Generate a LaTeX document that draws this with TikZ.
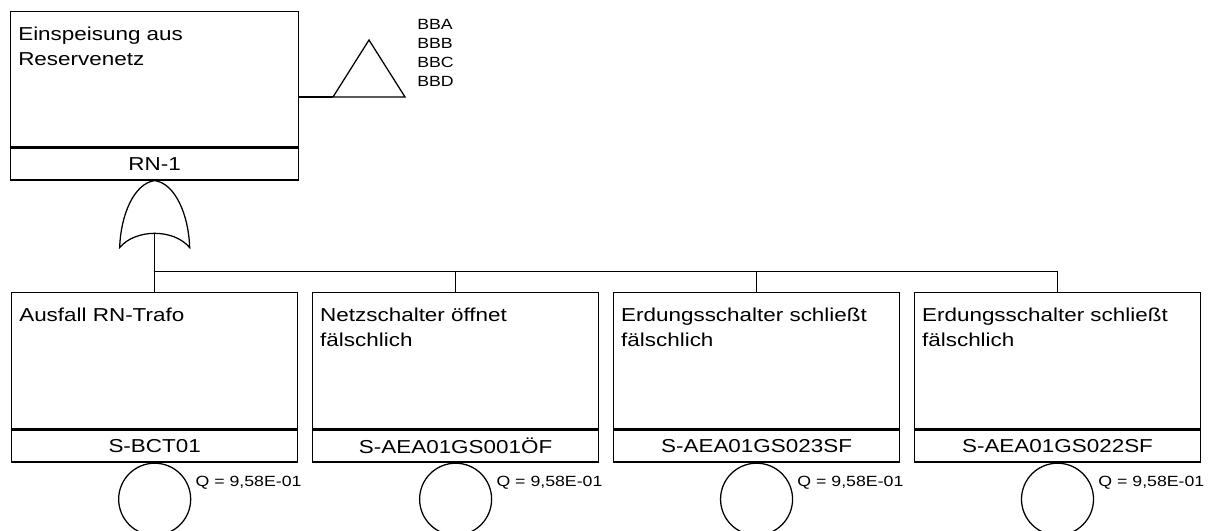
\documentclass[tikz,border=0pt]{standalone}
\usepackage{fontspec}
\setmainfont{Liberation Sans}[FakeStretch=1.2]
\usetikzlibrary{positioning, calc}
\tikzset{
	evbox/.style={draw, rectangle, line width=0.9pt, minimum width=7.15cm,
		minimum height=3.4cm, inner sep=0pt},
	idbox/.style={draw, rectangle, line width=0.9pt, minimum width=7.15cm,
		minimum height=0.8cm, inner sep=0pt, font=\fontsize{13.3}{16}\selectfont},
	evtext/.style={anchor=north west, align=left, inner sep=0pt,
		font=\fontsize{13.3}{17.7}\selectfont},
	basicev/.style={draw, circle, line width=0.9pt, minimum size=1.8cm, inner sep=0pt},
	qlabel/.style={anchor=west, inner sep=0pt, font=\fontsize{10.5}{12}\selectfont},
	conn/.style={line width=0.9pt}
}
\begin{document}
\begin{tikzpicture}[x=0.025cm, y=-0.025cm, node distance=0.34cm]
	\useasboundingbox (0,0) rectangle (1215,531);
	\clip (0,0) rectangle (1215,531);
	% top event
	\node[evbox, minimum width=7.2cm, minimum height=3.375cm, anchor=north west] (ev0) at (10,11) {};
	\node[idbox, minimum width=7.2cm, below=0pt of ev0] (id0) {RN-1};
	\node[evtext] (tx0) at ([shift={(0.2cm,-0.4cm)}]ev0.north west) {Einspeisung aus\\Reservenetz};
	% transfer
	\coordinate (trl) at (333,97);
	\coordinate (trr) at (405,97);
	\coordinate (trt) at (369,40);
	\draw[conn] (trl) -- (trt) -- (trr) -- cycle;
	\draw[conn] (ev0.east |- trl) -- (trl);
	\node[anchor=north west, align=left, inner sep=0pt, font=\fontsize{10.5}{13.5}\selectfont] (xfer) at (417,19) {BBA\\BBB\\BBC\\BBD};
	% OR gate
	\begin{scope}[shift={(id0.south)}]
		\draw[conn] (0,0) .. controls (-21,3) and (-34,35) .. (-35,67)
			.. controls (-19,48) and (19,48) .. (35,67)
			.. controls (34,35) and (21,3) .. (0,0);
		\coordinate (gin) at (0,52);
		\coordinate (bus) at (0,91);
	\end{scope}
	% basic events
	\node[evbox, anchor=north west] (ev1) at (11,292) {};
	\node[evbox, right=of ev1] (ev2) {};
	\node[evbox, right=of ev2] (ev3) {};
	\node[evbox, right=of ev3] (ev4) {};
	\foreach \n/\txt/\code in {1/{Ausfall RN-Trafo}/S-BCT01,
		2/{Netzschalter öffnet\\fälschlich}/S-AEA01GS001ÖF,
		3/{Erdungsschalter schließt\\fälschlich}/S-AEA01GS023SF,
		4/{Erdungsschalter schließt\\fälschlich}/S-AEA01GS022SF} {
		\node[evtext] (tx\n) at ([shift={(0.2cm,-0.4cm)}]ev\n.north west) {\txt};
		\node[idbox, below=0pt of ev\n] (id\n) {\code};
		\node[basicev, below=0pt of id\n] (bs\n) {};
		\node[qlabel] (q\n) at ([shift={(0.1cm,0.4cm)}]bs\n.east) {Q = 9,58E-01};
	}
	\foreach \n in {1,...,4}
		\draw[conn] (gin) |- (bus -| ev\n.north) -- (ev\n.north);
\end{tikzpicture}
\end{document}
